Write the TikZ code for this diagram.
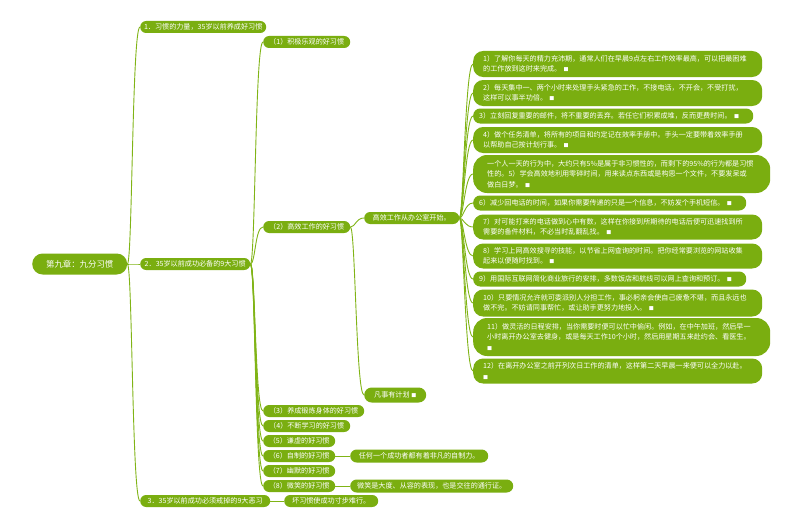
\documentclass[tikz,border=0pt]{standalone}
\usepackage{fontspec}
\setmainfont{Noto Sans CJK SC}
\usetikzlibrary{shapes.misc}
\definecolor{leafgreen}{RGB}{122,174,16}
\definecolor{linkgreen}{RGB}{128,180,22}
\newcommand{\sqmark}{{\fontsize{5}{5}\selectfont ■}}

\begin{document}
\begin{tikzpicture}[x=1pt,y=-1pt,
  every node/.style={font=\fontsize{7.1}{10.5}\selectfont,text=white,fill=leafgreen},
  pill/.style={rounded rectangle,anchor=west,minimum height=12,inner xsep=0,inner ysep=1},
  tip/.style={anchor=west,align=left,rounded corners=10,inner ysep=2,inner xsep=10,text width=269,minimum height=26},
  tipone/.style={tip,rounded corners=7,inner xsep=6,minimum height=15},
  tipthree/.style={tip,rounded corners=14,inner xsep=14,minimum height=38},
  link/.style={draw=linkgreen,line width=0.9}]
  \fill[white] (0,0) rectangle (800,527);
  \useasboundingbox (0,0) rectangle (800,527);

  \node[pill,minimum width=95,minimum height=21,font=\fontsize{8.4}{10}\selectfont] (root) at (32,264) {第九章：九分习惯};

  \node[pill,minimum width=126] (l1a) at (140,27) {1．习惯的力量，35岁以前养成好习惯};
  \node[pill,minimum width=110] (l1b) at (140,264) {2．35岁以前成功必备的9大习惯};
  \node[pill,minimum width=130] (l1c) at (140,501) {3．35岁以前成功必须戒掉的9大恶习};
  \node[pill,minimum width=94] (bad) at (284,501) {坏习惯使成功寸步难行。};

  \node[pill,minimum width=87] (h1) at (263,42) {（1）积极乐观的好习惯};
  \node[pill,minimum width=87] (h2) at (263,227) {（2）高效工作的好习惯};
  \node[pill,minimum width=101] (h3) at (263,411) {（3）养成锻炼身体的好习惯};
  \node[pill,minimum width=87] (h4) at (263,426) {（4）不断学习的好习惯};
  \node[pill,minimum width=72] (h5) at (263,441) {（5）谦虚的好习惯};
  \node[pill,minimum width=72] (h6) at (263,456) {（6）自制的好习惯};
  \node[pill,minimum width=72] (h7) at (263,471) {（7）幽默的好习惯};
  \node[pill,minimum width=72] (h8) at (263,486) {（8）微笑的好习惯};

  \node[pill,minimum width=95] (hw) at (364,218) {高效工作从办公室开始。};
  \node[pill,minimum width=62,minimum height=15] (plan) at (364,395) {凡事有计划~\sqmark};
  \node[pill,minimum width=138,minimum height=13] (zz) at (350,456) {任何一个成功者都有着非凡的自制力。};
  \node[pill,minimum width=163,minimum height=13] (wx) at (350,486) {微笑是大度、从容的表现，也是交往的通行证。};

  \node[tip] (t1) at (473,64) {1）了解你每天的精力充沛期，通常人们在早晨9点左右工作效率最高，可以把最困难\\的工作放到这时来完成。~\sqmark};
  \node[tip] (t2) at (473,93) {2）每天集中一、两个小时来处理手头紧急的工作，不接电话，不开会，不受打扰，\\这样可以事半功倍。~\sqmark};
  \node[tipone,text width=268] (t3) at (473,116) {3）立刻回复重要的邮件，将不重要的丢弃。若任它们积累成堆，反而更费时间。~\sqmark};
  \node[tip] (t4) at (473,140) {4）做个任务清单，将所有的项目和约定记在效率手册中。手头一定要带着效率手册\\以帮助自己按计划行事。~\sqmark};
  \node[tipthree] (t5) at (473,174) {一个人一天的行为中，大约只有5\%是属于非习惯性的，而剩下的95\%的行为都是习惯\\性的。5）学会高效地利用零碎时间，用来读点东西或是构思一个文件，不要发呆或\\做白日梦。~\sqmark};
  \node[tipone,text width=261] (t6) at (473,203) {6）减少回电话的时间，如果你需要传递的只是一个信息，不妨发个手机短信。~\sqmark};
  \node[tip,minimum height=25] (t7) at (473,227) {7）对可能打来的电话做到心中有数，这样在你接到所期待的电话后便可迅速找到所\\需要的备件材料，不必当时乱翻乱找。~\sqmark};
  \node[tip,minimum height=25] (t8) at (473,256) {8）学习上网高效搜寻的技能，以节省上网查询的时间。把你经常要浏览的网站收集\\起来以便随时找到。~\sqmark};
  \node[tipone,text width=261] (t9) at (473,279) {9）用国际互联网简化商业旅行的安排，多数饭店和航线可以网上查询和预订。~\sqmark};
  \node[tip,minimum height=27] (t10) at (473,303) {10）只要情况允许就可委派别人分担工作，事必躬亲会使自己疲惫不堪，而且永远也\\做不完。不妨请同事帮忙，或让助手更努力地投入。~\sqmark};
  \node[tipthree] (t11) at (473,337) {11）做灵活的日程安排，当你需要时便可以忙中偷闲。例如，在中午加班，然后早一\\小时离开办公室去健身，或是每天工作10个小时，然后用星期五来赴约会、看医生。\\\sqmark};
  \node[tip,minimum height=25] (t12) at (473,371) {12）在离开办公室之前开列次日工作的清单，这样第二天早晨一来便可以全力以赴。\\\sqmark};

  \foreach \c in {l1a,l1b,l1c}
    \draw[link] (root.east) .. controls +(5,0) and +(-8,0) .. (\c.west);
  \foreach \c in {1,...,8}
    \draw[link] (l1b.east) .. controls +(5,0) and +(-8,0) .. (h\c.west);
  \foreach \c in {hw,plan}
    \draw[link] (h2.east) .. controls +(5,0) and +(-8,0) .. (\c.west);
  \foreach \c in {1,...,12}
    \draw[link] (hw.east) .. controls +(4,0) and +(-8,0) .. (t\c.west);
  \draw[link] (h6.east) -- (zz.west);
  \draw[link] (h8.east) -- (wx.west);
  \draw[link] (l1c.east) -- (bad.west);
\end{tikzpicture}
\end{document}
